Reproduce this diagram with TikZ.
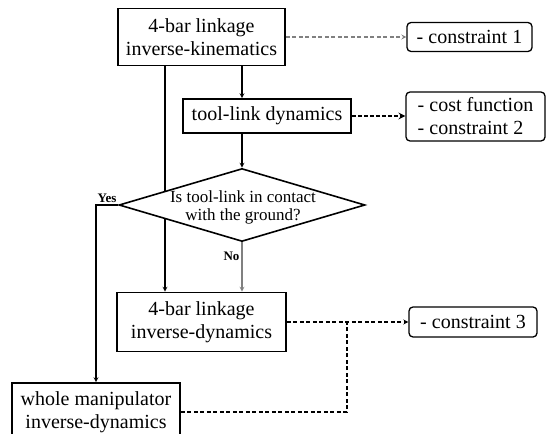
\documentclass[tikz,border=0pt]{standalone}
\usepackage{fontspec}
\setmainfont{Liberation Serif}
\usetikzlibrary{arrows, shapes.geometric, backgrounds}
\tikzset{
  blk/.style={draw, line width=1.6pt, fill=white, align=center, inner sep=0pt, font=\fontsize{20}{23}\selectfont},
  con/.style={blk, rounded corners=4pt, line width=1.3pt},
  dec/.style={diamond, draw, line width=1.6pt, fill=white, inner sep=0pt},
  tra/.style={->, >=stealth, line width=1.2pt},
  dtra/.style={tra, dash pattern=on 4pt off 2.5pt},
  lab/.style={font=\fontsize{13}{15}\selectfont\bfseries, inner sep=2pt}
}

\begin{document}
\begin{tikzpicture}[x=1pt, y=-1pt]
		\useasboundingbox (0,0) rectangle (547,434);
		\clip (0,0) rectangle (547,434);
		% main chain
		\node[blk, minimum width=167pt, minimum height=57pt] (ik) at (201.5,37) {4-bar linkage\\inverse-kinematics};
		\node[blk, minimum width=168pt, minimum height=34pt] (tl) at (267,116) {tool-link dynamics};
		\node[dec, minimum width=246pt, minimum height=73pt] (q) at (242,205) {};
		\node[font=\fontsize{17}{18}\selectfont, align=center, inner sep=0pt] (qt) at (243,207) {Is tool-link in contact\\with the ground?};
		\node[blk, minimum width=169pt, minimum height=59pt] (id) at (201.5,322) {4-bar linkage\\inverse-dynamics};
		\node[blk, minimum width=168pt, minimum height=58pt] (wm) at (96,412) {whole manipulator\\inverse-dynamics};
		% constraint boxes
		\node[con, minimum width=125pt, minimum height=29pt] (c1) at (469.5,37) {- constraint 1};
		\node[con, minimum width=139pt, minimum height=49pt, align=left] (c2) at (475.5,116.5) {- cost function\\- constraint 2};
		\node[con, minimum width=128pt, minimum height=30pt] (c3) at (473,322) {- constraint 3};
		\coordinate (lft) at (165,0);
		\coordinate (mrg) at (347,322);
		% flow
		\begin{pgfonlayer}{background}
			\draw[tra] (ik.south -| lft) -- (id.north -| lft);
		\end{pgfonlayer}
		\draw[tra] (ik.south -| q.north) -- (tl.north -| q.north);
		\draw[tra] (tl.south -| q.north) -- (q.north);
		\draw[tra, gray] (q.south) -- node[lab, left, pos=0.28, black] {No} (id.north -| q.south);
		\draw[tra] (q.west) -| node[lab, above, pos=0.25] {Yes} (wm.north);
		% constraints
		\draw[dtra, gray] (ik.east) -- (ik.east -| c1.west);
		\draw[dtra, line width=2pt, dash pattern=on 4pt off 2pt] (tl.east) -- (tl.east -| c2.west);
		\draw[dtra] (id.east) -- (id.east -| c3.west);
		\draw[dtra, -] (wm.east) -| (mrg);
	\end{tikzpicture}
\end{document}
